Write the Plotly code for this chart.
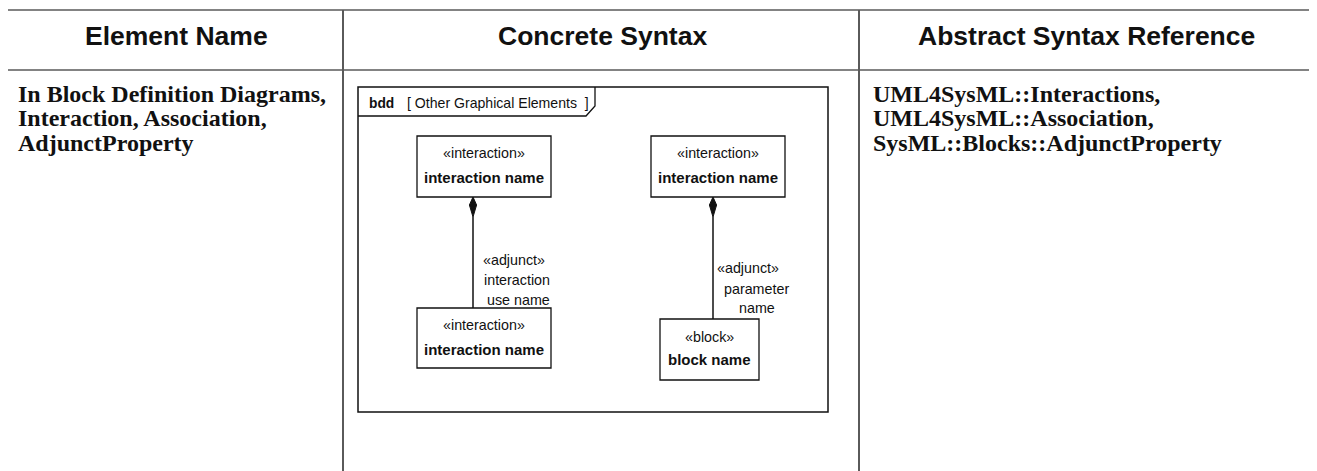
import plotly.graph_objects as go

# ---- content -------------------------------------------------------------
headers = ["Element Name", "Concrete Syntax", "Abstract Syntax Reference"]
element_lines = ["In Block Definition Diagrams,", "Interaction, Association,", "AdjunctProperty"]
abstract_lines = ["UML4SysML::Interactions,", "UML4SysML::Association,", "SysML::Blocks::AdjunctProperty"]
frame_kind = "bdd"
frame_name = "[ Other Graphical Elements  ]"
box_stereotypes = ["«interaction»", "«interaction»", "«interaction»", "«block»"]
box_names = ["interaction name", "interaction name", "interaction name", "block name"]
left_role = ["«adjunct»", "interaction", "use name"]
right_role = ["«adjunct»", "parameter", "name"]

# ---- layout geometry (pixels of the page) -------------------------------
W, H = 1317, 471
OFF = 8  # default page body margin
col_x = [7, 343, 859, 1312]
top_y, head_y = 10, 70
frame = (358, 87, 828, 412)
boxes = [(417, 136, 551, 197), (651, 136, 785, 197), (417, 308, 551, 368), (660, 319, 759, 380)]

GRID = "#5a5a5a"
DIAG = "Liberation Sans, Arial, sans-serif"
SANS = "Liberation Sans, Arial, sans-serif"
SERIF = "Liberation Serif, Times New Roman, serif"

fig = go.Figure()
shapes = []
ann = []

def line(x0, y0, x1, y1, color, w):
    shapes.append(dict(type="line", x0=x0, y0=y0, x1=x1, y1=y1, xref="x", yref="y",
                       line=dict(color=color, width=w)))

def text(x, y, s, size, family, bold=False, xanchor="center", color="#111"):
    ann.append(dict(x=x, y=y, xref="x", yref="y", text=(f"<b>{s}</b>" if bold else s),
                    showarrow=False, xanchor=xanchor, yanchor="middle",
                    font=dict(size=size, family=family, color=color)))

# table grid
line(col_x[0], top_y, col_x[-1], top_y, GRID, 1.5)
line(col_x[0], head_y, col_x[-1], head_y, GRID, 1.5)
for cx in col_x:
    line(cx, top_y, cx, H + 5, GRID, 2)

# headers
for i, h in enumerate(headers):
    text((col_x[i] + col_x[i + 1]) / 2 + 1, 36, h, 26.5, SANS, bold=True)

# body texts
line_y = [94, 118, 142.5]
for i, s in enumerate(element_lines):
    text(16, line_y[i], s, 24, SERIF, bold=True, xanchor="left")
for i, s in enumerate(abstract_lines):
    text(871, line_y[i], s, 24, SERIF, bold=True, xanchor="left")

# diagram frame
fx0, fy0, fx1, fy1 = frame
shapes.append(dict(type="rect", x0=fx0, y0=fy0, x1=fx1, y1=fy1, xref="x", yref="y",
                   line=dict(color="#111", width=1.5)))
shapes.append(dict(type="path", path=f"M {fx0},116 L 586,116 L 595,106 L 595,{fy0}",
                   xref="x", yref="y", line=dict(color="#111", width=1.3)))
text(367, 103, frame_kind, 13.8, DIAG, bold=True, xanchor="left")
text(405, 103, frame_name, 14.1, DIAG, xanchor="left")

# boxes
name_dy = [(17, 41), (17, 41), (17, 41), (18, 40)]
for i, (x0, y0, x1, y1) in enumerate(boxes):
    shapes.append(dict(type="rect", x0=x0, y0=y0, x1=x1, y1=y1, xref="x", yref="y",
                       line=dict(color="#111", width=1.3), fillcolor="white"))
    cx = (x0 + x1) / 2
    text(cx, y0 + name_dy[i][0], box_stereotypes[i], 14.3, DIAG)
    text(cx, y0 + name_dy[i][1], box_names[i], 15, DIAG, bold=True)

# composite associations (diamond at owner end)
for (lx, y_top, y_bot) in [(473, 197, 308), (713, 197, 319)]:
    shapes.append(dict(type="path",
                       path=f"M {lx},{y_top} L {lx+3.6},{y_top+8} L {lx},{y_top+20} L {lx-3.6},{y_top+8} Z",
                       xref="x", yref="y", fillcolor="#111", line=dict(color="#111", width=1)))
    line(lx, y_top + 20, lx, y_bot, "#111", 1.5)

for s, x, y in zip(left_role, [514, 517, 518], [260, 280, 300]):
    text(x, y, s, 14.3, DIAG)
for s, x, y in zip(right_role, [748, 756, 757], [268, 289, 308]):
    text(x, y, s, 14.3, DIAG)

fig.update_layout(
    width=W - OFF, height=H - OFF, margin=dict(l=0, r=0, t=0, b=0),
    paper_bgcolor="white", plot_bgcolor="white",
    xaxis=dict(range=[OFF, W], visible=False, fixedrange=True),
    yaxis=dict(range=[H, OFF], visible=False, fixedrange=True),
    shapes=shapes, annotations=ann, showlegend=False,
)
fig.write_html("out.html")
